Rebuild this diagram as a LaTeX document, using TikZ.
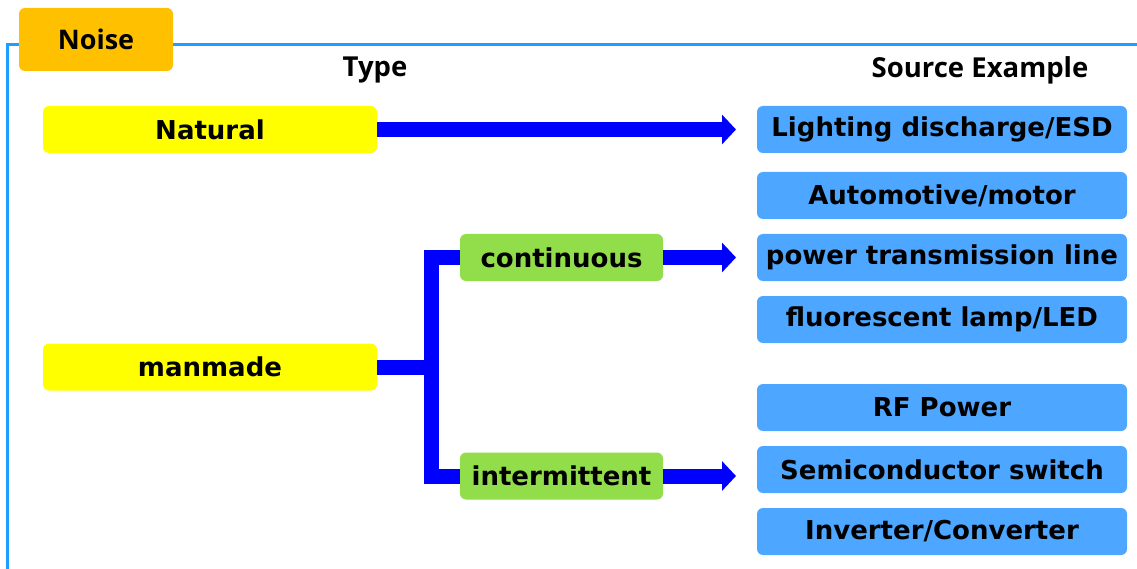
\documentclass[tikz,border=0pt]{standalone}
\usepackage{fontspec}
\setmainfont{Open Sans}
\newfontfamily\boxfont{DejaVu Sans}
\usetikzlibrary{arrows.meta}

\definecolor{framecol}{RGB}{30,158,255}
\definecolor{noisecol}{RGB}{255,192,0}
\definecolor{typecol}{RGB}{255,255,0}
\definecolor{subcol}{RGB}{146,222,74}
\definecolor{srccol}{RGB}{77,166,255}

\tikzset{
	box/.style={rounded corners=6pt, inner sep=0pt, minimum height=47pt,
		font=\boxfont\bfseries\fontsize{26}{30}\selectfont},
	typebox/.style={box, fill=typecol, minimum width=334pt},
	subbox/.style={box, fill=subcol, minimum width=203pt},
	srcbox/.style={box, fill=srccol, minimum width=370pt},
	head/.style={font=\bfseries\fontsize{27.5}{32}\selectfont},
	flow/.style={draw=blue, line width=15pt, -{Triangle[length=14pt,width=29pt]}},
	bar/.style={draw=blue, line width=15pt, line join=miter}
}

\begin{document}
\begin{tikzpicture}[x=1pt, y=1pt]
	\useasboundingbox (0,0) rectangle (1137,-569);
	% frame
	\draw[framecol, line width=3pt] (7,-569) -- (7,-45) -- (1137,-45);
	\node[rounded corners=6pt, fill=noisecol, minimum width=154pt, minimum height=63pt,
		font=\bfseries\fontsize{27}{32}\selectfont] (noise) at (96,-39.5) {Noise};
	\node[head] (type) at (375,-70) {Type};
	\node[head] (example) at (980,-70) {Source Example};
	% noise types
	\node[typebox] (natural) at (210,-129.5) {Natural};
	\node[typebox] (manmade) at (210,-367) {manmade};
	\node[subbox] (cont) at (561.5,-257.5) {continuous};
	\node[subbox] (inter) at (561.5,-476) {intermittent};
	% sources
	\node[srcbox] (src1) at (942,-129.5) {Lighting discharge/ESD};
	\node[srcbox] (src2) at (942,-195.5) {Automotive/motor};
	\node[srcbox] (src3) at (942,-257.5) {power transmission line};
	\node[srcbox] (src4) at (942,-319.5) {fluorescent lamp/LED};
	\node[srcbox] (src5) at (942,-407.5) {RF Power};
	\node[srcbox] (src6) at (942,-469.5) {Semiconductor switch};
	\node[srcbox] (src7) at (942,-531.5) {Inverter/Converter};
	% connectors
	\coordinate (split) at (431,-367);
	\coordinate (tipx) at (736,0);
	\draw[bar] (manmade.east) -- (split);
	\draw[bar] (cont.west) -| (split) |- (inter.west);
	\draw[flow] (natural.east) -- (natural.east -| tipx);
	\draw[flow] (cont.east) -- (cont.east -| tipx);
	\draw[flow] (inter.east) -- (inter.east -| tipx);
\end{tikzpicture}
\end{document}
